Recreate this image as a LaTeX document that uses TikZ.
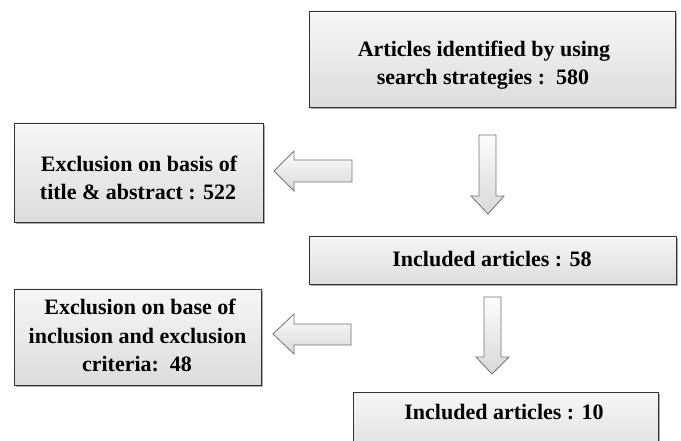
\documentclass[tikz,border=0pt]{standalone}
\usepackage{fontspec}
\setmainfont{Liberation Serif}
\usetikzlibrary{shadows}
\begin{document}
\begin{tikzpicture}[x=1pt,y=1pt]
\tikzset{
  boxnode/.style={draw=black!80, line width=0.8pt, top color=gray!7, bottom color=gray!27,
    drop shadow={shadow xshift=1.5pt, shadow yshift=-1.8pt, fill=black!60, opacity=0.55},
    inner sep=0pt, outer sep=0pt},
  txt/.style={anchor=base, inner sep=0pt, font=\fontsize{22}{28}\selectfont\bfseries},
  blockarrow/.style={draw=black!55, line width=0.8pt, top color=gray!2, bottom color=gray!30, line join=miter},
}
\useasboundingbox (0,0) rectangle (681,-441);
\clip (0,0) rectangle (681,-441);
% boxes
\node[boxnode, minimum width=366pt, minimum height=96pt] (b1) at (492,-59) {};
\node[boxnode, minimum width=249pt, minimum height=99pt] (b2) at (138.5,-172.5) {};
\node[boxnode, minimum width=367pt, minimum height=48pt] (b3) at (492.5,-260) {};
\node[boxnode, minimum width=247pt, minimum height=96pt] (b4) at (137.5,-337) {};
\node[boxnode, minimum width=305pt, minimum height=70pt] (b5) at (505.5,-427) {};
% texts
\node[txt] (t1a) at (484,-57) {Articles identified by using};
\node[txt] (t1b) at (483,-85) {search strategies :\ \ 580};
\node[txt] (t2a) at (139,-172) {Exclusion on basis of};
\node[txt] (t2b) at (138,-200) {title \& abstract : 522};
\node[txt] (t3) at (492,-267) {Included articles : 58};
\node[txt] (t4a) at (140,-315) {Exclusion on base of};
\node[txt] (t4b) at (137.5,-343) {inclusion and exclusion};
\node[txt] (t4c) at (137,-371) {criteria:\ \ 48};
\node[txt] (t5) at (504,-419) {Included articles : 10};
% block arrows
\draw[blockarrow] (352,-160) -- (294,-160) -- (294,-151) -- (274,-171) -- (294,-191) -- (294,-182) -- (352,-182) -- cycle;
\draw[blockarrow] (351,-324) -- (294,-324) -- (294,-314) -- (273,-334) -- (294,-354) -- (294,-345) -- (351,-345) -- cycle;
\draw[blockarrow] (479,-135) -- (496,-135) -- (496,-196) -- (504,-196) -- (488,-214) -- (471,-196) -- (479,-196) -- cycle;
\draw[blockarrow] (484,-297) -- (501,-297) -- (501,-357) -- (509,-357) -- (492,-374) -- (476,-357) -- (484,-357) -- cycle;
\end{tikzpicture}
\end{document}
